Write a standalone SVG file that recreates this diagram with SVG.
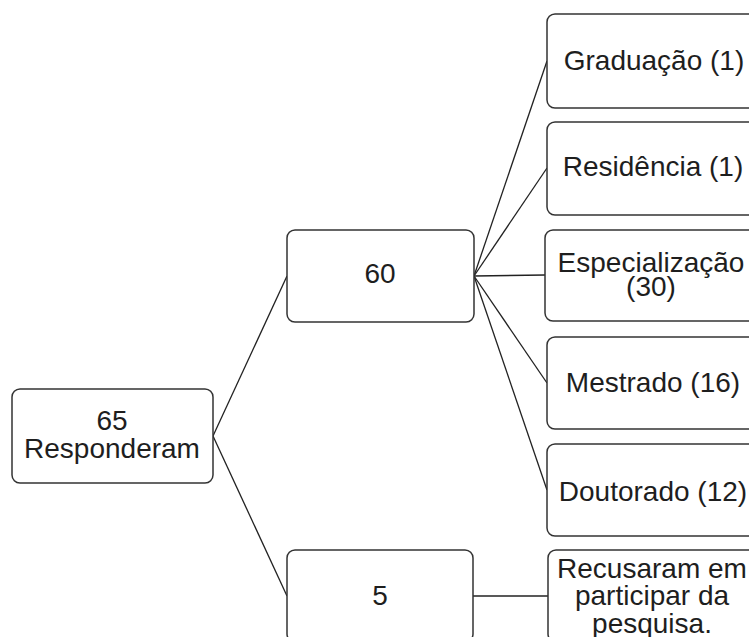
<svg xmlns="http://www.w3.org/2000/svg" width="749" height="637" viewBox="0 0 749 637">
<style>
.box{fill:#fff;stroke:#333;stroke-width:1.5}
.t{font-family:"Liberation Sans",Arial,sans-serif;font-size:28px;fill:#1e1e1e;text-anchor:middle}
.c{stroke:#222;stroke-width:1.3;fill:none}
</style>
<rect width="749" height="637" fill="#fff"/>
<g id="connectors">
<line class="c" x1="213" y1="436" x2="287" y2="276"/>
<line class="c" x1="213" y1="436" x2="287" y2="596"/>
<line class="c" x1="474" y1="276" x2="547" y2="61"/>
<line class="c" x1="474" y1="276" x2="547" y2="168"/>
<line class="c" x1="474" y1="276" x2="545" y2="275"/>
<line class="c" x1="474" y1="276" x2="547" y2="383"/>
<line class="c" x1="474" y1="276" x2="547" y2="490"/>
<line class="c" x1="473" y1="596" x2="548" y2="596"/>
</g>
<g id="n65"><rect class="box" x="12" y="389" width="201" height="94" rx="8"/><text class="t" x="112" y="430">65</text><text class="t" x="112" y="458">Responderam</text></g>
<g id="n60"><rect class="box" x="287" y="230" width="187" height="92" rx="8"/><text class="t" x="380" y="283">60</text></g>
<g id="n5"><rect class="box" x="287" y="550" width="186" height="92" rx="8"/><text class="t" x="380" y="605">5</text></g>
<g id="grad"><rect class="box" x="547" y="14" width="212" height="94" rx="8"/><text class="t" x="654" y="70">Graduação (1)</text></g>
<g id="resid"><rect class="box" x="547" y="122" width="212" height="93" rx="8"/><text class="t" x="653" y="176">Residência (1)</text></g>
<g id="espec"><rect class="box" x="545" y="230" width="214" height="91" rx="8"/><text class="t" x="651" y="272">Especialização</text><text class="t" x="651" y="296">(30)</text></g>
<g id="mest"><rect class="box" x="547" y="337" width="212" height="92" rx="8"/><text class="t" x="653" y="392">Mestrado (16)</text></g>
<g id="dout"><rect class="box" x="547" y="444" width="212" height="92" rx="8"/><text class="t" x="653" y="501">Doutorado (12)</text></g>
<g id="recus"><rect class="box" x="548" y="550" width="212" height="92" rx="8"/><text class="t" x="652" y="578">Recusaram em</text><text class="t" x="652" y="605">participar da</text><text class="t" x="652" y="633">pesquisa.</text></g>
</svg>
